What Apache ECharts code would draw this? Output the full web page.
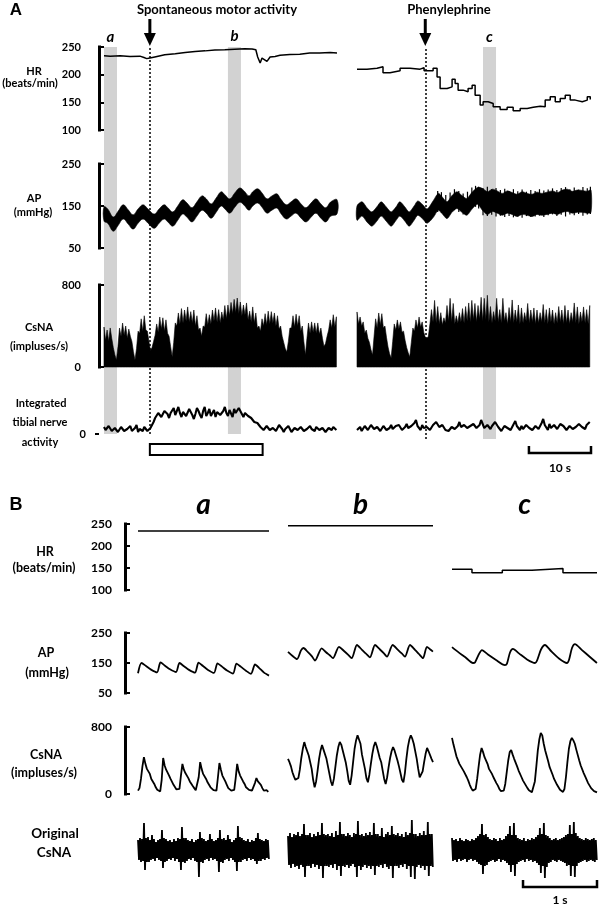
<!DOCTYPE html>
<html><head><meta charset="utf-8">
<script src="https://cdn.jsdelivr.net/npm/echarts@6/dist/echarts.min.js"></script>
<style>html,body{margin:0;padding:0;background:#fff}#c{width:600px;height:908px}</style>
</head><body><div id="c"></div><script>
// ================= PANEL A (time in seconds) =================
const hrA_L_t = [0,1.0,2.6,4.2,5.8,6.45,6.9,7.4,8.2,9.8,11.5,13.1,14.7,16.3,17.9,19.5,21.1,22.7,23.9,24.5,24.8,25.2,25.5,25.8,26.3,26.8,27.6,28.4,30.0,31.6,33.2,34.8,36.5,37.6];
const hrA_L_v = [234,233.5,234,233,233.5,231,229,230,232,236,238,240,242,243,244.5,245,246,247,246.5,245,232,221,230,227,224,232,233,235,236.5,237,239,239,240,239];
const hrA_R_t = [0,1.61,3.23,4.19,5.32,6.94,8.55,10.16,10.81,12.26,12.90,13.39,14.52,15.32,15.81,16.29,17.10,17.90,18.55,19.03,19.84,20.32,21.13,21.94,23.06,24.19,25.16,26.29,27.42,28.39,29.52,30.32,31.13,31.94,32.74,33.55,34.35,35.16,36.29,37.10,37.58];
const hrA_R_v = [210,211.5,214.4,203.6,207,211.5,210,212.6,207,211.5,196,175,178,191.6,184,172,169,175,181,163,145,151,148,142,137,141,135,139,141,143,142,154,160,151,157,163,154,151,154,160,155];

const apA_L_t = [0.0,0.6,1.5,2.3,3.1,3.9,4.7,5.5,6.3,7.1,8.1,8.9,9.7,10.3,11.1,11.9,12.7,13.4,14.2,15.0,15.8,16.5,17.3,18.1,18.9,19.5,20.3,21.1,21.9,22.6,23.4,24.0,24.8,25.5,26.3,27.1,27.9,28.5,29.4,30.2,31.0,31.8,32.6,33.4,34.2,35.0,35.8,36.6,37.6];
const apA_L_sys = [148,143,124,138,153,141,129,143,153,143,131,143,153,146,136,150,165,157,146,160,174,167,155,169,184,177,167,181,193,186,174,184,191,181,167,174,179,167,153,160,167,155,146,157,167,155,146,160,165];
const apA_L_dia = [114,109,90,104,119,107,95,109,119,109,97,109,119,112,102,116,131,123,112,126,140,133,121,135,150,143,133,147,159,152,140,150,157,147,133,140,145,133,119,126,133,121,112,123,133,121,112,126,131];
const apA_R_t = [0.0,0.8,1.6,2.4,3.2,3.9,4.7,5.5,6.3,6.9,7.7,8.4,9.2,9.8,10.6,11.3,12.3,13.1,13.7,14.5,15.3,16.1,16.9,17.7,18.5,19.4,20.2,21.0,21.8,22.6,23.4,24.2,25.0,25.8,26.6,27.4,28.2,29.0,29.8,30.6,31.5,32.3,33.1,33.9,34.7,35.5,36.3,37.1,37.7];
const apA_R_sys = [150,160,146,136,148,160,148,136,148,160,148,136,150,162,153,143,163,180,172,160,175,184,175,168,182,194,192,184,190,186,180,186,182,178,184,180,178,183,180,183,186,182,188,190,185,188,187,185,188];
const apA_R_dia = [116,126,112,102,114,126,114,102,116,126,114,102,116,128,119,109,123,140,132,120,135,144,135,128,142,154,140,130,137,133,128,133,130,125,130,128,125,130,128,130,133,130,135,137,133,135,135,133,135];
// single beats standing out of the band after phenylephrine (time, diastolic tip, systolic tip)
const apA_R_spk_t = [13.0,13.6,14.3,15.0,15.7,16.4,17.1,17.8,18.5,19.1,19.6,20.3,21.0,21.7,22.4,23.1,23.8,24.5,25.2,25.9,26.6,27.3,28.0,28.7,29.4,30.1,30.8,31.5,32.2,32.9,33.6,34.3,35.0,35.7,36.4,37.1,37.6];
const apA_R_spk_lo = [136,134,126,132,140,136,130,134,146,148,144,128,126,129,125,127,124,126,123,125,122,126,124,125,127,124,128,130,126,129,125,130,128,131,127,130,131];
const apA_R_spk_v = [186,183,176,182,190,186,180,184,194,198,196,192,196,190,193,188,191,186,190,185,189,184,188,186,190,187,189,192,188,193,195,190,194,189,195,192,196];

const csA_dt = 0.25;
const csA_L = [390,260,361,250,381,280,190,120,68,200,380,300,429,310,400,280,370,300,250,150,68,180,350,330,470,350,500,360,350,250,160,190,250,310,420,340,488,370,480,350,460,330,300,200,100,240,430,400,527,420,570,430,556,450,586,440,540,430,556,400,500,360,380,300,400,390,520,410,510,420,556,450,576,440,560,430,537,460,600,470,605,500,630,520,660,530,673,520,634,500,605,510,625,460,545,440,586,430,527,380,400,350,470,400,520,410,545,420,540,430,527,400,500,370,400,300,240,180,146,250,380,380,500,390,515,400,500,350,400,250,117,280,429,330,440,340,430,330,430,320,380,280,200,230,300,360,460,380,510,390,490];
const csA_R = [537,420,488,400,440,330,360,280,240,170,117,300,470,380,527,410,520,380,400,290,195,130,88,250,420,360,459,370,440,340,350,260,190,140,98,240,380,350,459,380,488,390,440,340,290,280,300,420,560,440,650,430,590,420,530,410,480,430,600,450,670,440,620,420,500,430,530,440,570,430,590,450,625,440,650,460,620,440,600,470,680,450,670,460,700,440,590,430,540,450,670,440,560,430,670,450,530,420,580,440,654,430,556,440,605,420,576,430,530,450,620,430,556,440,576,420,556,430,530,440,610,430,560,420,576,440,556,420,530,430,590,440,556,420,600,430,556,420,530,440,625,430,586,420,537,440,586,430,560,420,600];

const tibA_dt = 0.25;
const tibA_L = [7,4,3,8,6,3,2,6,5,2,4,7,7,3,2,5,5,8,3,4,6,9,2,5,4,3,7,6,3,4,6,9,12,16,18,21,22,17,18,23,25,20,16,21,23,26,19,17,27,21,17,22,24,18,20,25,22,19,15,20,26,23,19,16,23,27,18,21,25,18,21,24,17,22,24,19,20,23,27,21,18,24,22,17,25,21,19,26,24,20,17,21,23,18,20,16,18,12,14,11,10,7,6,4,5,8,9,4,3,6,7,3,4,9,8,5,2,5,6,8,5,2,3,6,8,4,4,7,6,3,2,5,7,8,5,3,3,7,6,4,4,6,8,2,3,6,5,4,7,5,4];
const tibA_R = [4,6,7,3,3,8,6,4,5,9,8,5,4,7,6,3,3,8,7,4,5,6,9,5,4,8,6,9,8,4,5,7,10,6,4,8,7,11,14,8,6,4,9,6,5,7,8,4,4,9,7,12,11,7,5,9,8,4,6,3,4,7,9,5,6,8,12,7,5,9,8,6,4,8,7,10,10,6,5,9,14,10,6,4,9,7,5,8,8,12,11,7,6,3,4,8,9,6,7,4,5,10,13,8,6,4,8,5,5,9,10,6,7,4,4,8,9,5,6,11,15,9,7,4,10,6,5,9,8,5,6,10,12,8,7,4,5,8,9,5,6,7,8,10,11,7,6,5,9,8,12];

const winA = [0, 2.1], winB = [20.0, 22.1], winC = [20.3, 22.4];
const motorOn = 7.4, motorOff = 25.6, peOn = 11.0;

// ================= PANEL B (time in seconds) =================
const hrB_a_t = [0, 1.77], hrB_a_v = [234, 234];
const hrB_b_t = [0, 1.96], hrB_b_v = [246, 246];
const hrB_c_t = [0, 0.27, 0.68, 1.08, 1.50, 1.96], hrB_c_v = [147, 139, 145, 149, 139, 139];

const apB_a_t = [0,0.047,0.108,0.176,0.257,0.304,0.365,0.432,0.514,0.561,0.622,0.689,0.770,0.818,0.878,0.946,1.027,1.074,1.135,1.203,1.284,1.331,1.392,1.459,1.527,1.581,1.635,1.703,1.770];
const apB_a_v = [116,150,140,128,119,152,141,129,120,150,139,127,118,151,140,127,117,149,138,125,115,148,137,124,114,145,134,118,108];
const apB_b_t = [0,0.054,0.122,0.176,0.209,0.270,0.324,0.365,0.455,0.514,0.568,0.608,0.689,0.757,0.811,0.861,0.932,1.000,1.054,1.108,1.176,1.243,1.297,1.338,1.415,1.486,1.541,1.581,1.649,1.716,1.770,1.824,1.878,1.919,1.959];
const apB_b_v = [187,175,163,192,200,186,172,158,199,186,175,166,204,190,178,166,210,194,181,169,210,195,182,171,210,194,181,171,210,194,180,166,204,196,188];
const apB_c_t = [0,0.081,0.176,0.284,0.311,0.365,0.405,0.486,0.595,0.716,0.743,0.784,0.824,0.905,1.014,1.122,1.149,1.203,1.257,1.338,1.446,1.554,1.581,1.622,1.662,1.757,1.865,1.959];
const apB_c_v = [203,187,170,150,152,180,193,178,160,143,148,185,197,182,162,150,158,195,210,190,165,150,160,200,213,193,170,150];

const csB_dt = 0.02;
const csB_a = [40,70,180,330,440,360,300,310,240,180,190,120,80,50,35,30,170,430,340,290,300,220,180,170,110,90,55,40,60,220,360,290,250,260,190,150,140,95,70,45,40,200,380,300,240,250,180,140,110,80,60,45,35,40,200,370,290,220,230,150,110,70,50,40,35,50,190,360,270,220,230,150,120,80,60,50,45,40,60,130,190,150,170,110,70,40,30,45,25];
const csB_b = [420,380,330,260,210,170,150,190,290,430,540,620,560,580,460,470,300,170,80,150,280,420,520,585,530,545,420,400,240,150,100,180,320,460,560,620,590,520,540,380,280,160,110,220,380,540,640,700,650,600,470,490,300,190,140,230,360,480,570,620,570,590,430,380,280,180,120,200,320,430,510,560,520,540,400,330,250,170,140,250,420,560,650,700,660,600,620,420,300,200,180,270,380,480,550,510,530,420,380];
const csB_c = [670,590,610,450,470,360,380,300,270,280,200,160,110,70,40,20,60,180,330,470,550,500,440,460,360,300,320,240,200,210,130,100,60,35,20,40,120,260,400,500,525,470,420,440,330,280,300,200,160,170,100,70,45,30,20,40,150,330,520,650,730,700,600,520,540,390,320,340,230,180,190,110,80,50,30,25,60,200,380,540,630,670,640,600,530,550,400,340,360,250,210,220,130,100,70,50,35,25,20];

const orig_dt = 0.027;
const orig_a_hi = [10,12,11,27,12,13,10,15,11,8,10,11,20,12,11,9,10,8,11,9,12,11,23,12,12,10,9,11,8,10,11,18,12,11,9,10,16,11,9,10,12,20,11,12,10,15,11,8,10,12,24,13,12,10,9,11,8,10,9,12,17,11,10,9,11,10];
const orig_a_lo = [-10,-12,-11,-20,-12,-12,-10,-9,-11,-8,-10,-11,-18,-12,-11,-9,-10,-8,-11,-9,-12,-20,-12,-13,-11,-9,-10,-8,-11,-12,-27,-12,-13,-10,-9,-11,-8,-10,-9,-11,-22,-12,-13,-10,-9,-11,-8,-10,-12,-21,-12,-12,-10,-9,-11,-8,-10,-9,-11,-14,-11,-11,-9,-10,-8,-9];
const orig_b_hi = [14,17,13,16,15,18,14,16,26,15,15,17,13,16,14,18,15,27,16,15,16,14,17,13,19,15,28,16,16,14,17,15,13,17,16,29,15,16,14,17,15,18,15,27,16,16,14,22,13,16,18,15,24,16,15,17,14,16,13,18,15,17,30,16,16,14,17,15,19,15,28,16,16];
const orig_b_lo = [-15,-18,-14,-17,-16,-19,-15,-17,-27,-16,-16,-18,-14,-17,-15,-19,-16,-28,-16,-16,-17,-15,-18,-14,-20,-16,-26,-16,-17,-15,-18,-16,-14,-17,-27,-16,-20,-17,-15,-18,-16,-19,-16,-25,-16,-17,-15,-18,-14,-17,-19,-16,-28,-16,-16,-18,-15,-17,-14,-19,-16,-27,-16,-29,-17,-15,-18,-16,-20,-16,-26,-16,-17];
const orig_c_hi = [12,10,11,9,12,10,9,11,10,9,11,10,12,14,16,26,15,16,13,11,10,12,11,9,12,10,11,14,16,24,15,27,15,12,11,10,12,9,11,10,12,11,13,15,22,16,27,15,14,12,10,11,12,10,11,12,13,15,16,25,16,28,17,14,12,11,10,12,11,10,11,12,10];
const orig_c_lo = [-11,-10,-12,-9,-11,-10,-9,-12,-10,-9,-11,-10,-12,-14,-15,-24,-16,-15,-12,-11,-10,-12,-11,-9,-12,-10,-11,-13,-15,-22,-15,-26,-14,-12,-11,-10,-12,-9,-11,-10,-12,-11,-13,-15,-23,-16,-28,-17,-13,-12,-10,-11,-12,-10,-11,-12,-13,-16,-15,-26,-16,-27,-16,-13,-12,-11,-10,-12,-11,-10,-11,-12,-10];

// ================= BUILD =================
const FONT = 'Lato, "Open Sans", sans-serif';
const grids = [], xAxes = [], yAxes = [], series = [];
function addGrid(box, xmax, ymin, ymax, yax) {
  const i = grids.length;
  grids.push(Object.assign({containLabel:false}, box));
  xAxes.push({type:'value', gridIndex:i, min:0, max:xmax, show:false});
  yAxes.push(Object.assign({type:'value', gridIndex:i, min:ymin, max:ymax, show:false, splitLine:{show:false}}, yax || {}));
  return i;
}
function visY(interval, offset, margin, fs) {
  return {show:true, interval:interval, position:'left', offset:offset, z:30,
    axisLine:{show:true, onZero:false, lineStyle:{color:'#000', width:3, cap:'square'}},
    axisTick:{show:true, inside:true, length:5, lineStyle:{color:'#000', width:2}},
    axisLabel:{show:true, margin:margin, color:'#000', fontFamily:FONT, fontWeight:'bold', fontSize:fs},
    splitLine:{show:false}};
}
const pairs = (t, v) => t.map((x, i) => [x, v[i]]);
const uni = (dt, v) => v.map((y, i) => [i * dt, y]);
const zig = (dt, hi, lo) => { const d = []; hi.forEach((h, i) => { d.push([i * dt, h]); if (i < lo.length) d.push([(i + 0.5) * dt, lo[i]]); }); return d; };
function lineS(gi, data, extra) {
  return Object.assign({type:'line', xAxisIndex:gi, yAxisIndex:gi, data:data, symbol:'none', silent:true,
    animation:false, lineStyle:{color:'#000', width:1.5}, z:5}, extra || {});
}
function bandS(gi, t, lo, hi, smooth) {
  return {type:'custom', xAxisIndex:gi, yAxisIndex:gi, data:[[t[0], hi[0]]], silent:true, animation:false, z:5,
    renderItem: function (params, api) {
      const n = Math.min(t.length, hi.length, lo ? lo.length : hi.length);
      const pts = [];
      for (let i = 0; i < n; i++) pts.push(api.coord([t[i], hi[i]]));
      for (let i = n - 1; i >= 0; i--) pts.push(api.coord([t[i], lo ? lo[i] : 0]));
      return {type:'polygon', shape:{points:pts, smooth:smooth || 0}, style:{fill:'#000', stroke:'#000', lineWidth:0.6}};
    }};
}
function spikeS(gi, t, lo, hi) {
  return {type:'custom', xAxisIndex:gi, yAxisIndex:gi, silent:true, animation:false, z:4,
    data:t.map((x, i) => [x, lo[i], hi[i]]), encode:{x:0, y:[1, 2]},
    renderItem: function (params, api) {
      const a = api.coord([api.value(0), api.value(1)]), b = api.coord([api.value(0), api.value(2)]);
      return {type:'line', shape:{x1:a[0], y1:a[1], x2:b[0], y2:b[1]}, style:{stroke:'#000', lineWidth:1.2}};
    }};
}
const idx = (n, dt) => Array.from({length:n}, (_, i) => i * dt);

const XL = 37.6, XR = 37.7;
const gHRL = addGrid({left:104, top:47, width:233, height:83}, XL, 100, 250, visY(50, 5, 18, 11));
const gHRR = addGrid({left:357, top:47, width:234, height:83}, XR, 100, 250);
const gAPL = addGrid({left:104, top:164, width:233, height:84}, XL, 50, 250, visY(100, 5, 18, 11));
const gAPR = addGrid({left:357, top:164, width:234, height:84}, XR, 50, 250);
const gCSL = addGrid({left:104, top:285, width:233, height:82}, XL, 0, 800, visY(800, 5, 18, 11));
const gCSR = addGrid({left:357, top:285, width:234, height:82}, XR, 0, 800);
const gTBL = addGrid({left:104, top:394, width:233, height:40}, XL, 0, 40, {show:true, position:'left', offset:5,
  axisLine:{show:false, onZero:false}, axisTick:{show:true, inside:false, length:4, customValues:[0], lineStyle:{color:'#000', width:2}},
  axisLabel:{show:true, customValues:[0], margin:13, color:'#000', fontFamily:FONT, fontWeight:'bold', fontSize:11}});
const gTBR = addGrid({left:357, top:394, width:234, height:40}, XR, 0, 40);
const gBDL = addGrid({left:104, top:47, width:233, height:387}, XL, 0, 1);
const gBDR = addGrid({left:357, top:47, width:234, height:392}, XR, 0, 1);
const colB = [{left:138, width:131, x:1.77}, {left:288, width:145, x:1.96}, {left:452, width:145, x:1.96}];
const gHRB = colB.map((c, k) => addGrid({left:c.left, top:524, width:c.width, height:66}, c.x, 100, 250, k === 0 ? visY(50, 13, 13, 12) : null));
const gAPB = colB.map((c, k) => addGrid({left:c.left, top:633, width:c.width, height:60}, c.x, 50, 250, k === 0 ? visY(100, 13, 13, 12) : null));
const gCSB = colB.map((c, k) => addGrid({left:c.left, top:727, width:c.width, height:67}, c.x, 0, 800, k === 0 ? visY(800, 13, 13, 12) : null));
const gORB = colB.map((c) => addGrid({left:c.left, top:820, width:c.width, height:60}, c.x, -30, 30));

function shade(gi, wins, ev) {
  series.push({type:'line', xAxisIndex:gi, yAxisIndex:gi, data:[[0, -5]], symbol:'none', silent:true, animation:false,
    lineStyle:{opacity:0}, z:1,
    markArea:{silent:true, itemStyle:{color:'#d2d2d2'}, data:wins.map(w => [{xAxis:w[0]}, {xAxis:w[1]}])},
    markLine:{silent:true, symbol:['none', 'none'], label:{show:false}, lineStyle:{color:'#000', type:[2, 2], width:1.5},
      data:[{xAxis:ev}]}});
}
shade(gBDL, [winA, winB], motorOn);
shade(gBDR, [winC], peOn);

series.push(lineS(gHRL, pairs(hrA_L_t, hrA_L_v)));
series.push(lineS(gHRR, pairs(hrA_R_t, hrA_R_v), {step:'end'}));
series.push(bandS(gAPL, apA_L_t, apA_L_dia, apA_L_sys, 0.4));
series.push(bandS(gAPR, apA_R_t, apA_R_dia, apA_R_sys, 0.3));
series.push(spikeS(gAPR, apA_R_spk_t, apA_R_spk_lo, apA_R_spk_v));
series.push(bandS(gCSL, idx(csA_L.length, csA_dt), null, csA_L, 0));
series.push(bandS(gCSR, idx(csA_R.length, csA_dt), null, csA_R, 0));
series.push(lineS(gTBL, uni(tibA_dt, tibA_L), {lineStyle:{color:'#000', width:2.1}}));
series.push(lineS(gTBR, uni(tibA_dt, tibA_R), {lineStyle:{color:'#000', width:2.1}}));

series.push(lineS(gHRB[0], pairs(hrB_a_t, hrB_a_v)));
series.push(lineS(gHRB[1], pairs(hrB_b_t, hrB_b_v)));
series.push(lineS(gHRB[2], pairs(hrB_c_t, hrB_c_v), {step:'end'}));
series.push(lineS(gAPB[0], pairs(apB_a_t, apB_a_v), {smooth:0.25, lineStyle:{color:'#000', width:1.8}}));
series.push(lineS(gAPB[1], pairs(apB_b_t, apB_b_v), {smooth:0.25, lineStyle:{color:'#000', width:1.8}}));
series.push(lineS(gAPB[2], pairs(apB_c_t, apB_c_v), {smooth:0.25, lineStyle:{color:'#000', width:1.8}}));
series.push(lineS(gCSB[0], uni(csB_dt, csB_a), {lineStyle:{color:'#000', width:1.8}}));
series.push(lineS(gCSB[1], uni(csB_dt, csB_b), {lineStyle:{color:'#000', width:1.8}}));
series.push(lineS(gCSB[2], uni(csB_dt, csB_c), {lineStyle:{color:'#000', width:1.8}}));
series.push(lineS(gORB[0], zig(orig_dt, orig_a_hi, orig_a_lo), {lineStyle:{color:'#000', width:1.8}}));
series.push(lineS(gORB[1], zig(orig_dt, orig_b_hi, orig_b_lo), {lineStyle:{color:'#000', width:1.8}}));
series.push(lineS(gORB[2], zig(orig_dt, orig_c_hi, orig_c_lo), {lineStyle:{color:'#000', width:1.8}}));

const chart = echarts.init(document.getElementById('c'), null, {renderer:'canvas', width:600, height:908});
chart.setOption({animation:false, backgroundColor:'#fff', grid:grids, xAxis:xAxes, yAxis:yAxes, series:series});

function T(x, y, s, fs, extra) {
  return {type:'text', x:x, y:y, silent:true, z:20, style:Object.assign({text:s, fill:'#000', fontFamily:FONT, fontWeight:'bold',
    fontSize:fs, align:'center', verticalAlign:'middle', textAlign:'center', textVerticalAlign:'middle'}, extra || {})};
}
const px = (gi, t) => chart.convertToPixel({xAxisIndex:gi}, t);
const G = [];
G.push(T(16, 10, 'A', 17, {fontFamily:'"Liberation Sans", Arial, sans-serif'}));
G.push(T(16, 505, 'B', 18, {fontFamily:'"Liberation Sans", Arial, sans-serif'}));
G.push(T(217, 10, 'Spontaneous motor activity', 13));
G.push(T(449, 10, 'Phenylephrine', 13));
function arrow(x) {
  G.push({type:'line', silent:true, z:20, shape:{x1:x, y1:19, x2:x, y2:36}, style:{stroke:'#000', lineWidth:3}});
  G.push({type:'polygon', silent:true, z:20, shape:{points:[[x - 6, 33], [x + 6, 33], [x, 46]]}, style:{fill:'#000'}});
}
arrow(px(gBDL, motorOn));
arrow(px(gBDR, peOn));
const it = {fontStyle:'italic'};
G.push(T((px(gBDL, winA[0]) + px(gBDL, winA[1])) / 2, 37, 'a', 15, it));
G.push(T((px(gBDL, winB[0]) + px(gBDL, winB[1])) / 2, 36, 'b', 15, it));
G.push(T((px(gBDR, winC[0]) + px(gBDR, winC[1])) / 2, 37, 'c', 15, it));
G.push(T(34, 71, 'HR', 11)); G.push(T(30, 83, '(beats/min)', 11));
G.push(T(34, 198, 'AP', 11)); G.push(T(33, 212, '(mmHg)', 11));
G.push(T(39, 327, 'CsNA', 11)); G.push(T(39, 346, '(impluses/s)', 11));
G.push(T(41, 403, 'Integrated', 11)); G.push(T(40, 422, 'tibial nerve', 11)); G.push(T(40, 442, 'activity', 11));
const r0 = px(gTBL, motorOn), r1 = px(gTBL, motorOff);
G.push({type:'rect', silent:true, z:20, shape:{x:r0, y:444, width:r1 - r0, height:11}, style:{fill:'#fff', stroke:'#000', lineWidth:2}});
const s0 = px(gTBR, XR - 10), s1 = px(gTBR, XR);
G.push({type:'polyline', silent:true, z:20, shape:{points:[[s0, 446], [s0, 453], [s1, 453], [s1, 446]]}, style:{stroke:'#000', lineWidth:2.5, fill:null}});
G.push(T((s0 + s1) / 2, 468, '10 s', 12));
colB.forEach((c, k) => {
  const gi = gHRB[k];
  G.push(T((px(gi, 0) + px(gi, c.x)) / 2, 505, ['a', 'b', 'c'][k], 28, it));
});
G.push(T(45, 552, 'HR', 12.5)); G.push(T(44, 568, '(beats/min)', 12.5));
G.push(T(46, 653, 'AP', 12.5)); G.push(T(47, 673, '(mmHg)', 12.5));
G.push(T(46, 755, 'CsNA', 12.5)); G.push(T(44, 773, '(impluses/s)', 12.5));
G.push(T(55, 834, 'Original', 13.5)); G.push(T(54, 853, 'CsNA', 13.5));
const b0 = px(gORB[2], 0.96), b1 = px(gORB[2], 1.96);
G.push({type:'polyline', silent:true, z:20, shape:{points:[[b0, 880], [b0, 887], [b1, 887], [b1, 880]]}, style:{stroke:'#000', lineWidth:2.5, fill:null}});
G.push(T((b0 + b1) / 2, 900, '1 s', 12));
chart.setOption({graphic:{elements:G}});
</script></body></html>
